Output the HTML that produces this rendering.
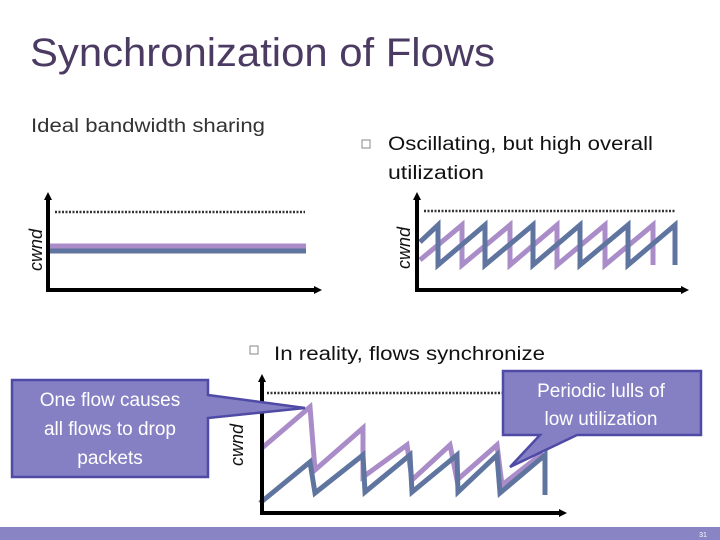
<!DOCTYPE html>
<html><head><meta charset="utf-8"><style>
html,body{margin:0;padding:0;background:#fff;}
svg{display:block;}
text{font-family:"Liberation Sans",sans-serif;}
</style></head><body>
<svg width="720" height="540" viewBox="0 0 720 540" xmlns="http://www.w3.org/2000/svg">
<defs>
<marker id="ah" markerWidth="8" markerHeight="8" refX="4" refY="4" orient="auto" markerUnits="userSpaceOnUse"><path d="M0,0 L8,4 L0,8 z" fill="#000"/></marker>
</defs>
<text x="30" y="66" font-size="40" fill="#4b3b63" textLength="465" lengthAdjust="spacingAndGlyphs">Synchronization of Flows</text>
<text x="31" y="132" font-size="19" fill="#333" textLength="234" lengthAdjust="spacingAndGlyphs">Ideal bandwidth sharing</text>
<rect x="362" y="140" width="8" height="8" fill="none" stroke="#888" stroke-width="1"/>
<text x="388" y="150" font-size="19" fill="#111" textLength="265" lengthAdjust="spacingAndGlyphs">Oscillating, but high overall</text>
<text x="388" y="179" font-size="19" fill="#111" textLength="96" lengthAdjust="spacingAndGlyphs">utilization</text>
<rect x="250" y="346" width="8" height="8" fill="none" stroke="#888" stroke-width="1"/>
<text x="274" y="360" font-size="19" fill="#111" textLength="271" lengthAdjust="spacingAndGlyphs">In reality, flows synchronize</text>

<!-- panel 1 -->
<line x1="55" y1="212" x2="305" y2="212" stroke="#333" stroke-width="2.5" stroke-dasharray="2,1.5"/>
<line x1="50" y1="246" x2="306" y2="246" stroke="#a98cc8" stroke-width="5"/>
<line x1="50" y1="251" x2="306" y2="251" stroke="#5f75a0" stroke-width="5"/>
<line x1="48" y1="291" x2="48" y2="196" stroke="#000" stroke-width="4" marker-end="url(#ah)"/>
<line x1="46" y1="290" x2="318" y2="290" stroke="#000" stroke-width="4" marker-end="url(#ah)"/>
<text transform="translate(42,250) rotate(-90)" font-size="18" font-style="italic" fill="#111" text-anchor="middle">cwnd</text>

<!-- panel 2 -->
<line x1="424" y1="211" x2="675" y2="211" stroke="#333" stroke-width="2.5" stroke-dasharray="2,1.5"/>
<polyline fill="none" stroke="#a98cc8" stroke-width="5" points="420,260 462,225 462,265 510,225 510,265 557,225 557,265 605,225 605,265 653,225 653,265"/>
<polyline fill="none" stroke="#5f75a0" stroke-width="5" points="420,242 438,225 438,265 485,225 485,265 533,225 533,265 580,225 580,265 628,225 628,265 675,225 675,265"/>
<line x1="417" y1="291" x2="417" y2="196" stroke="#000" stroke-width="4" marker-end="url(#ah)"/>
<line x1="415" y1="290" x2="685" y2="290" stroke="#000" stroke-width="4" marker-end="url(#ah)"/>
<text transform="translate(410,248) rotate(-90)" font-size="18" font-style="italic" fill="#111" text-anchor="middle">cwnd</text>

<!-- panel 3 -->
<line x1="267" y1="393" x2="505" y2="393" stroke="#333" stroke-width="2.5" stroke-dasharray="2,1.5"/>
<polyline fill="none" stroke="#a98cc8" stroke-width="5" points="262,448 310,407 315,470 363,428 363,477 407,445 412,480 450,445 457,480 497,445 502,485 543,453"/>
<polyline fill="none" stroke="#5f75a0" stroke-width="5" points="260,503 310,462 315,493 363,455 365,492 410,455 412,492 457,455 458,492 497,455 500,493 545,455 545,495"/>
<line x1="262" y1="514" x2="262" y2="378" stroke="#000" stroke-width="4" marker-end="url(#ah)"/>
<line x1="260" y1="513" x2="563" y2="513" stroke="#000" stroke-width="4" marker-end="url(#ah)"/>
<text transform="translate(243,445) rotate(-90)" font-size="18" font-style="italic" fill="#111" text-anchor="middle">cwnd</text>

<!-- callouts -->
<path d="M12,380 L208,380 L208,395 L305,408 L208,418 L208,477 L12,477 Z" fill="#8580c4" stroke="#4f4aa6" stroke-width="2.5"/>
<text x="110" y="406" font-size="19" fill="#fff" text-anchor="middle">One flow causes</text>
<text x="110" y="435" font-size="19" fill="#fff" text-anchor="middle">all flows to drop</text>
<text x="110" y="464" font-size="19" fill="#fff" text-anchor="middle">packets</text>
<path d="M503,371 L701,371 L701,435 L577,435 L510,467 L540,435 L503,435 Z" fill="#8580c4" stroke="#4f4aa6" stroke-width="2.5"/>
<text x="601" y="397" font-size="19" fill="#fff" text-anchor="middle">Periodic lulls of</text>
<text x="601" y="425" font-size="19" fill="#fff" text-anchor="middle">low utilization</text>

<rect x="0" y="527" width="720" height="13" fill="#8985c4"/>
<text x="703" y="537" font-size="7" fill="#fff" text-anchor="middle">31</text>
</svg>
</body></html>
